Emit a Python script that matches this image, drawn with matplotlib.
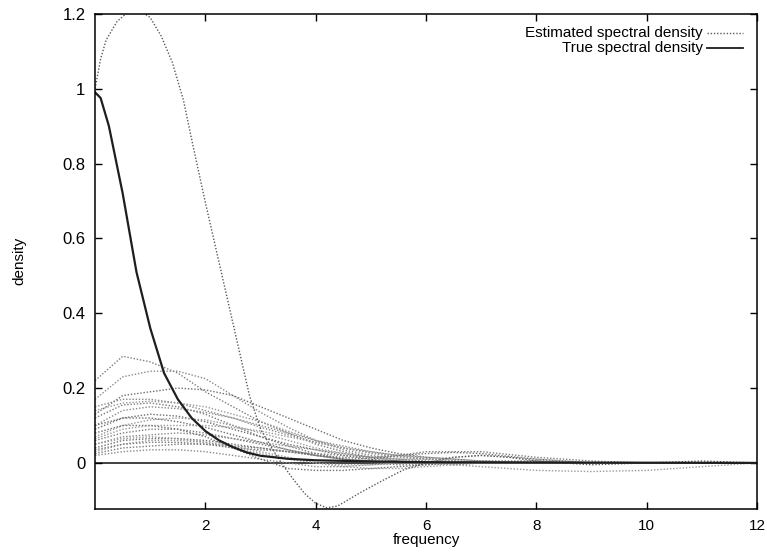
import numpy as np
import matplotlib
matplotlib.use("Agg")
import matplotlib.pyplot as plt
from matplotlib.lines import Line2D

plt.rcParams['font.family'] = ['Liberation Sans', 'DejaVu Sans']

# true spectral density (solid line)
true_x = [0, 0.1, 0.25, 0.5, 0.75, 1.0, 1.25, 1.5, 1.75, 2.0, 2.25, 2.5, 2.75, 3.0,
          3.5, 4.0, 5.0, 6.0, 8.0, 10.0, 12.0]
true_y = [0.99, 0.975, 0.90, 0.72, 0.51, 0.36, 0.24, 0.17, 0.12, 0.085, 0.06, 0.042,
          0.028, 0.019, 0.011, 0.007, 0.004, 0.002, 0.001, 0.0005, 0.0]

# the one estimate that overshoots
big_x = [0, 0.1, 0.2, 0.4, 0.6, 0.8, 1.0, 1.2, 1.4, 1.6, 1.8, 2.0, 2.2, 2.4,
         2.6, 2.8, 3.0, 3.2, 3.4, 3.6, 3.8, 4.0, 4.2, 4.4, 4.8, 5.2, 5.6, 6.0,
         6.5, 7.0, 7.5, 8.0, 9.0, 10.0, 11.0, 12.0]
big_y = [1.0, 1.08, 1.13, 1.18, 1.205, 1.21, 1.19, 1.14, 1.07, 0.97, 0.83,
         0.695, 0.566, 0.437, 0.308, 0.179, 0.09, 0.04, -0.005, -0.045, -0.082,
         -0.108, -0.12, -0.115, -0.08, -0.048, -0.018, 0.0, 0.015, 0.02, 0.015,
         0.005, -0.005, 0.0, 0.005, 0.0]

# remaining estimates, all on the same frequency grid
est_x = [0, 0.5, 1, 1.5, 2, 2.5, 3, 3.5, 4, 4.5, 5, 5.5, 6, 6.5, 7, 8, 9, 10, 11, 12]
est_01 = [0.22, 0.285, 0.27, 0.24, 0.19, 0.15, 0.11, 0.08, 0.05, 0.03, 0.015, 0.005, 0.0, -0.005, 0.0, 0.005, 0.0, 0.0, 0.0, 0.0]
est_02 = [0.17, 0.23, 0.245, 0.245, 0.225, 0.18, 0.135, 0.095, 0.06, 0.035, 0.02, 0.01, 0.005, 0.0, 0.0, 0.0, 0.0, 0.0, 0.0, 0.0]
est_03 = [0.13, 0.18, 0.19, 0.2, 0.195, 0.18, 0.15, 0.12, 0.09, 0.06, 0.04, 0.025, 0.015, 0.01, 0.005, 0.0, 0.0, 0.0, 0.0, 0.0]
est_04 = [0.14, 0.16, 0.165, 0.16, 0.15, 0.13, 0.11, 0.085, 0.06, 0.04, 0.025, 0.015, 0.01, 0.005, 0.0, 0.0, 0.0, 0.0, 0.0, 0.0]
est_05 = [0.12, 0.155, 0.16, 0.15, 0.13, 0.1, 0.07, 0.045, 0.025, 0.01, 0.0, -0.005, -0.005, 0.0, 0.0, 0.0, 0.0, 0.0, 0.0, 0.0]
est_06 = [0.1, 0.14, 0.15, 0.145, 0.135, 0.12, 0.1, 0.08, 0.06, 0.045, 0.03, 0.02, 0.015, 0.01, 0.005, 0.0, 0.0, 0.0, 0.0, 0.0]
est_07 = [0.09, 0.12, 0.13, 0.125, 0.11, 0.09, 0.07, 0.05, 0.035, 0.02, 0.01, 0.005, 0.0, 0.0, 0.0, 0.0, 0.0, 0.0, 0.0, 0.0]
est_08 = [0.07, 0.1, 0.115, 0.12, 0.115, 0.1, 0.08, 0.06, 0.04, 0.025, 0.015, 0.01, 0.01, 0.015, 0.02, 0.01, 0.0, 0.0, 0.0, 0.0]
est_09 = [0.06, 0.08, 0.09, 0.09, 0.08, 0.065, 0.05, 0.035, 0.02, 0.01, 0.005, 0.0, 0.0, 0.0, 0.0, 0.0, 0.0, 0.0, 0.0, 0.0]
est_10 = [0.05, 0.07, 0.075, 0.08, 0.075, 0.065, 0.055, 0.045, 0.035, 0.025, 0.015, 0.01, 0.005, 0.0, 0.0, 0.0, 0.0, 0.0, 0.0, 0.0]
est_11 = [0.04, 0.06, 0.065, 0.065, 0.06, 0.05, 0.04, 0.03, 0.02, 0.015, 0.01, 0.02, 0.025, 0.028, 0.025, 0.01, 0.0, 0.0, 0.0, 0.0]
est_12 = [0.03, 0.05, 0.06, 0.06, 0.055, 0.045, 0.03, 0.015, 0.0, -0.01, -0.015, -0.015, -0.01, -0.005, 0.0, 0.0, 0.0, 0.0, 0.0, 0.0]
est_13 = [0.025, 0.04, 0.045, 0.05, 0.05, 0.045, 0.04, 0.03, 0.02, 0.01, 0.005, 0.0, 0.0, 0.0, 0.0, 0.0, 0.0, 0.0, 0.0, 0.0]
est_14 = [0.02, 0.03, 0.035, 0.035, 0.03, 0.02, 0.01, 0.0, -0.01, -0.01, -0.005, 0.0, 0.0, 0.0, 0.0, 0.0, 0.0, 0.0, 0.0, 0.0]
est_15 = [0.08, 0.1, 0.1, 0.09, 0.07, 0.04, 0.01, -0.015, -0.02, -0.02, -0.015, -0.01, -0.005, 0.0, 0.0, 0.0, 0.0, 0.0, 0.0, 0.0]
est_16 = [0.05, 0.065, 0.07, 0.065, 0.055, 0.04, 0.025, 0.01, 0.0, -0.005, -0.005, 0.0, 0.0, -0.005, -0.01, -0.02, -0.023, -0.02, -0.01, 0.0]
est_17 = [0.035, 0.05, 0.055, 0.055, 0.05, 0.04, 0.035, 0.03, 0.025, 0.02, 0.015, 0.02, 0.03, 0.03, 0.03, 0.015, 0.005, 0.0, 0.0, 0.0]
est_18 = [0.15, 0.17, 0.17, 0.16, 0.14, 0.12, 0.095, 0.075, 0.055, 0.04, 0.028, 0.018, 0.01, 0.005, 0.0, 0.0, 0.0, 0.0, 0.0, 0.0]
est_19 = [0.1, 0.12, 0.12, 0.11, 0.095, 0.075, 0.055, 0.035, 0.02, 0.01, 0.005, 0.0, 0.0, 0.0, 0.005, 0.005, 0.0, 0.0, 0.0, 0.0]
est_20 = [0.065, 0.09, 0.1, 0.1, 0.1, 0.095, 0.085, 0.07, 0.055, 0.04, 0.03, 0.02, 0.012, 0.006, 0.0, 0.0, 0.0, 0.0, 0.0, 0.0]
estimates = [est_01, est_02, est_03, est_04, est_05, est_06, est_07, est_08, est_09, est_10,
             est_11, est_12, est_13, est_14, est_15, est_16, est_17, est_18, est_19, est_20]

xticks = [2, 4, 6, 8, 10, 12]
yticks = [0, 0.2, 0.4, 0.6, 0.8, 1.0, 1.2]
ytick_labels = ['0', '0.2', '0.4', '0.6', '0.8', '1', '1.2']
legend_labels = ['Estimated spectral density', 'True spectral density']

fig = plt.figure(figsize=(7.67, 5.52), dpi=100)
ax = fig.add_axes([0.124, 0.078, 0.863, 0.897])

dots = (0, (1, 1.3))
greys = ['#7c7c7c', '#8a8a8a', '#6e6e6e', '#999999']
for i, e in enumerate(estimates):
    ax.plot(est_x, e, color=greys[i % len(greys)], lw=1.0, ls=dots)

ax.axhline(0, color='#333333', lw=1.3, zorder=1.5)
ax.plot(big_x, big_y, color='#5a5a5a', lw=1.0, ls=dots)
ax.plot(true_x, true_y, color='#1e1e1e', lw=1.6)

ax.set_xlim(0, 12)
ax.set_ylim(-0.123, 1.2)
ax.set_xticks(xticks)
ax.set_yticks(yticks)
ax.set_yticklabels(ytick_labels)
ax.tick_params(direction='in', length=5, width=1, top=True, right=True,
               labelsize=11, pad=7)
ax.tick_params(axis='y', labelsize=12)
for s in ax.spines.values():
    s.set_linewidth(1.1)

ax.set_xlabel('frequency', fontsize=11, labelpad=0)
ax.set_ylabel('density', fontsize=11, labelpad=26)

# gnuplot style key: right-justified text, sample to the right
key_y = [0.962, 0.931]
key_styles = [dict(color='#5a5a5a', lw=1.0, ls=dots), dict(color='#1e1e1e', lw=1.3)]
for lab, ky, st in zip(legend_labels, key_y, key_styles):
    ax.text(0.918, ky, lab, transform=ax.transAxes, ha='right', va='center', fontsize=11)
    ax.add_line(Line2D([0.924, 0.979], [ky, ky], transform=ax.transAxes, **st))

fig.savefig('out.png', dpi=100)
